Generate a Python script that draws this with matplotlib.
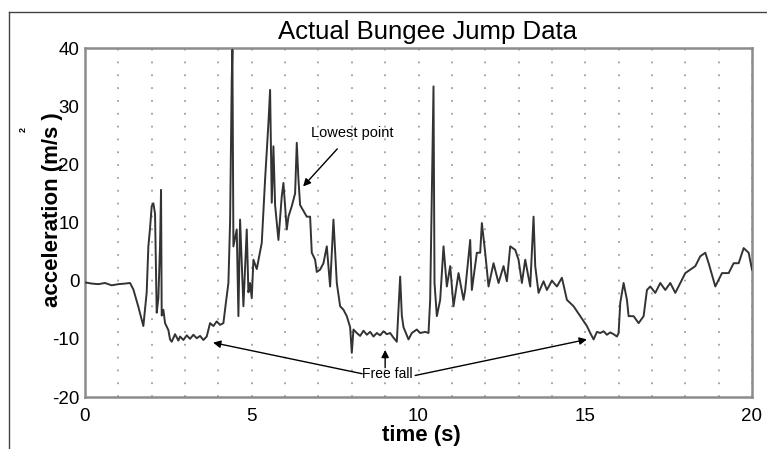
import matplotlib
matplotlib.use("Agg")
import matplotlib.pyplot as plt
from matplotlib.ticker import MultipleLocator
from matplotlib.lines import Line2D

plt.rcParams['font.family'] = ['Liberation Sans', 'DejaVu Sans']
plt.rcParams['axes.unicode_minus'] = False

time_s = [0.0, 0.2, 0.4, 0.6, 0.8, 1.0, 1.2, 1.35, 1.45, 1.6, 1.75, 1.85, 1.9, 1.95, 2.0,
          2.05, 2.1, 2.15, 2.2, 2.25, 2.28, 2.3, 2.35, 2.4, 2.5, 2.55, 2.6, 2.7, 2.8, 2.85,
          2.95, 3.05, 3.15, 3.25, 3.35, 3.45, 3.55, 3.65, 3.75, 3.85, 3.95, 4.05, 4.15, 4.22,
          4.3, 4.35, 4.4, 4.42, 4.45, 4.55, 4.6, 4.65, 4.75, 4.85, 4.9, 4.95, 5.0, 5.05, 5.15,
          5.25, 5.3, 5.4, 5.5, 5.55, 5.6, 5.65, 5.7, 5.8, 5.9, 5.95, 6.05, 6.1, 6.2, 6.3, 6.35,
          6.4, 6.45, 6.55, 6.65, 6.75, 6.8, 6.9, 6.95, 7.05, 7.15, 7.25, 7.35, 7.45, 7.55, 7.65,
          7.75, 7.85, 7.95, 8.0, 8.05, 8.15, 8.25, 8.35, 8.45, 8.55, 8.65, 8.75, 8.85, 8.95,
          9.05, 9.15, 9.25, 9.35, 9.45, 9.5, 9.55, 9.7, 9.8, 9.95, 10.05, 10.2, 10.3, 10.35,
          10.45, 10.48, 10.55, 10.65, 10.75, 10.85, 10.95, 11.05, 11.2, 11.35, 11.4, 11.55,
          11.6, 11.75, 11.85, 11.9, 12.0, 12.1, 12.25, 12.4, 12.55, 12.65, 12.75, 12.9, 13.0,
          13.1, 13.2, 13.35, 13.45, 13.5, 13.6, 13.75, 13.85, 14.0, 14.15, 14.3, 14.45, 14.65,
          14.85, 15.05, 15.15, 15.25, 15.35, 15.45, 15.55, 15.65, 15.75, 15.85, 15.95, 16.0,
          16.05, 16.15, 16.25, 16.3, 16.45, 16.6, 16.75, 16.85, 16.95, 17.1, 17.25, 17.4, 17.55,
          17.7, 17.85, 18.0, 18.15, 18.3, 18.45, 18.6, 18.7, 18.85, 18.9, 19.1, 19.3, 19.45,
          19.6, 19.75, 19.9, 20.0]
accel = [-0.3, -0.5, -0.6, -0.4, -0.8, -0.6, -0.5, -0.4, -1.5, -4.5, -7.8, -2.0, 5.9, 9.0, 12.8,
         13.3, 11.5, -5.5, -3.0, 6.0, 15.6, -6.0, -5.0, -7.3, -8.5, -10.1, -10.5, -9.2, -10.3, -9.6,
         -10.2, -9.4, -10.0, -9.3, -9.9, -9.5, -10.2, -9.6, -7.3, -7.8, -7.0, -7.6, -7.3, -4.0,
         -0.4, 10.0, 34.5, 39.7, 5.9, 8.8, -6.1, 10.5, -4.4, 8.8, -2.0, -0.4, -3.0, 3.6, 2.0,
         5.0, 6.5, 17.4, 27.1, 32.8, 13.4, 23.1, 13.0, 7.0, 14.5, 16.8, 8.8, 11.0, 12.8, 15.0, 23.7,
         17.4, 13.0, 12.0, 11.0, 11.0, 4.8, 3.6, 1.5, 1.9, 3.0, 5.9, -1.0, 10.5, -0.4, -4.4,
         -5.0, -6.1, -8.0, -12.4, -8.4, -9.0, -9.5, -8.6, -9.3, -8.8, -9.6, -9.0, -9.4, -8.7,
         -9.2, -9.0, -9.8, -10.5, 0.7, -6.0, -8.0, -10.1, -9.0, -8.4, -9.0, -8.8, -9.0, -3.3,
         33.4, -0.4, -6.1, -3.3, 5.9, -1.0, 2.5, -4.4, 1.3, -3.3, -1.6, 7.0,
         -1.6, 4.8, 4.8, 9.9, 4.8, -1.0, 3.0, -0.4, 2.5, -0.1, 5.9, 5.3, 3.6,
         -0.4, 3.6, -1.0, 11.0, 2.5, -2.1, -0.1, -1.6, 0.0, -1.0, 0.5, -3.3, -4.4,
         -6.1, -7.8, -9.0, -10.1, -8.8, -9.0, -8.7, -9.3, -8.9, -9.2, -9.6, -9.0,
         -3.8, -0.4, -3.3, -6.1, -6.1, -7.3, -6.1, -1.6, -1.0, -2.1, -0.4, -1.6, -0.4,
         -2.1, -0.4, 1.3, 1.9, 2.5, 4.2, 4.8, 3.0, 0.0, -1.0, 1.3, 1.3, 3.0,
         3.0, 5.6, 4.8, 1.9]

xticks = [0, 5, 10, 15, 20]
yticks = [-20, -10, 0, 10, 20, 30, 40]

fig = plt.figure(figsize=(7.67, 4.49), dpi=100)
ax = fig.add_axes([85/767, 52/449, 667/767, 349/449])

ax.plot(time_s, accel, color='#333333', lw=1.4, zorder=3)

ax.set_xlim(0, 20)
ax.set_ylim(-20, 40)
ax.set_xticks(xticks)
ax.set_yticks(yticks)
ax.xaxis.set_minor_locator(MultipleLocator(1))
ax.tick_params(which='both', length=0, labelsize=13.5)
ax.tick_params(axis='x', pad=8)
ax.tick_params(axis='y', pad=4)
ax.grid(True, which='both', axis='x', color='#8f8f8f', lw=1.1,
        linestyle=(0, (1.2, 7.2)), zorder=1)
for s in ax.spines.values():
    s.set_color('#8c8c8c')
    s.set_linewidth(1.8)

fig.text(421/767, 1 - 436/449, 'time (s)', fontsize=16, fontweight='bold',
         ha='center', va='center')
fig.text(53/767, 1 - 210/449, 'acceleration (m/s )', fontsize=16, fontweight='bold',
         rotation=90, ha='center', va='center')
fig.text(23/767, 1 - 130/449, '2', rotation=90, fontsize=6.5, ha='center', va='center',
         fontweight='bold')

fig.text(428/767, 1 - 32/449, 'Actual Bungee Jump Data', fontsize=18.5,
         ha='center', va='center')

# annotations
arrow = dict(arrowstyle='-|>', color='black', lw=1.0, mutation_scale=11,
             shrinkA=0, shrinkB=0)
ax.annotate('Lowest point', xy=(6.54, 16.2), xytext=(8.0, 25.4), fontsize=10.5,
            ha='center', va='center',
            arrowprops=dict(arrowstyle='-|>', color='black', lw=1.0,
                            mutation_scale=11, shrinkA=6, shrinkB=0))
ax.text(9.05, -16.1, 'Free fall', fontsize=10, ha='center', va='center', zorder=5)
ax.annotate('', xy=(3.84, -10.65), xytext=(8.31, -16.0), arrowprops=arrow)
ax.annotate('', xy=(9.0, -11.9), xytext=(9.0, -14.95), arrowprops=arrow)
ax.annotate('', xy=(15.05, -10.1), xytext=(9.9, -16.3), arrowprops=arrow)

# outer frame (top and left)
fig.add_artist(Line2D([9/767, 766/767], [1 - 12/449, 1 - 12/449],
                      color='#444444', lw=1.0, transform=fig.transFigure))
fig.add_artist(Line2D([9/767, 9/767], [0, 1 - 12/449],
                      color='#444444', lw=1.0, transform=fig.transFigure))

fig.savefig('out.png', dpi=100)
